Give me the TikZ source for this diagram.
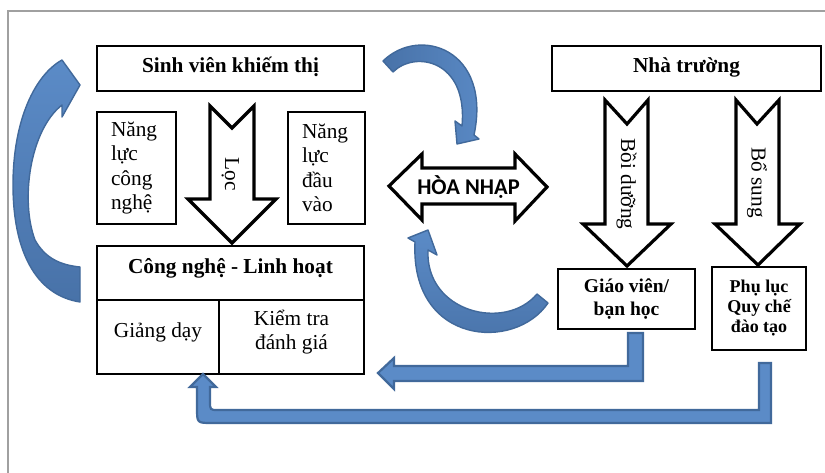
\documentclass[tikz,border=0pt]{standalone}
\usepackage{fontspec}
\setmainfont{Liberation Serif}
\newfontfamily\calibri{Carlito}
\definecolor{bluelight}{RGB}{91,139,199}
\definecolor{bluemid}{RGB}{72,114,168}
\definecolor{bluedark}{RGB}{65,105,155}
\definecolor{framegray}{RGB}{160,160,160}
\begin{document}
\begin{tikzpicture}[x=1pt,y=-1pt,
  box/.style={draw=black, line width=1.6pt, fill=white, inner sep=0pt, align=center},
  tb/.style={font=\fontsize{21.3}{24.5}\selectfont\bfseries},
  tr/.style={font=\fontsize{21.3}{24.5}\selectfont},
  oneline/.style={text height=14pt, text depth=5pt, inner sep=0pt},
  blockarrow/.style={draw=black, line width=3.2pt, fill=white, line join=miter, miter limit=10},
  curvearrow/.style={draw=bluedark, line width=1.4pt, line join=round},
  benta/.style={fill=bluelight, draw=bluedark, line width=2.2pt, line join=miter}
]
\useasboundingbox (0,0) rectangle (825,473);
\fill[white] (0,0) rectangle (825,473);
\draw[framegray, line width=1.3pt] (8,473) -- (8,11) -- (825,11);

% boxes
\node[box, tb, oneline, minimum width=267pt, minimum height=45pt] (sv) at (230.5,68.5) {Sinh viên khiếm thị};
\node[box, tr, minimum width=79pt, minimum height=112pt, text width=51pt, align=left] (nlcn) at (136.5,168) {Năng\\lực\\công\\nghệ};
\node[box, tr, minimum width=77pt, minimum height=112pt, text width=49pt, align=left] (nldv) at (326.5,168) {Năng\\lực\\đầu\\vào};

\node[box, minimum width=267pt, minimum height=54pt] (cn) at (230.5,273) {};
\node[tb, oneline] (cnt) at (230.5,269.5) {Công nghệ - Linh hoạt};
\node[box, minimum width=122pt, minimum height=74pt] (gd) at (158,337) {};
\node[tr, oneline] (gdt) at (158,332.5) {Giảng dạy};
\node[box, minimum width=145pt, minimum height=74pt] (kt) at (291.5,337) {};
\node[tr, align=center, font=\fontsize{21.3}{24}\selectfont, inner sep=0pt] (ktt) at (291.5,332) {Kiểm tra\\đánh giá};

\node[box, tb, oneline, minimum width=269pt, minimum height=45pt] (nt) at (686.5,68.5) {Nhà trường};
\node[box, font=\fontsize{19.5}{23}\selectfont\bfseries, minimum width=137pt, minimum height=60pt] (gv) at (626.5,299) {Giáo viên/\\bạn học};
\node[box, font=\fontsize{18}{20}\selectfont\bfseries, minimum width=94pt, minimum height=83pt] (pl) at (759,308.5) {Phụ lục\\Quy chế\\đào tạo};

% block arrows
\path[blockarrow] (210,106) -- (232,128) -- (254,106) -- (254,199) -- (276,199) -- (232,243) -- (188,199) -- (210,199) -- cycle;
\node[tr, oneline, rotate=-90] (loc) at (229.5,174.5) {Lọc};

\path[blockarrow] (605,100) -- (627,124) -- (648,100) -- (648,224) -- (671,224) -- (627,266) -- (583,224) -- (605,224) -- cycle;
\node[tr, oneline, rotate=-90] (bd) at (625.5,184) {Bồi dưỡng};

\path[blockarrow] (736,100) -- (757,124) -- (779,100) -- (779,224) -- (800,224) -- (758,265) -- (715,224) -- (736,224) -- cycle;
\node[tr, oneline, rotate=-90] (bs) at (756,182.5) {Bổ sung};

\path[blockarrow] (389,186) -- (422,154) -- (422,168) -- (515,168) -- (515,154) -- (547,187) -- (515,221) -- (515,204) -- (422,204) -- (422,220) -- cycle;
\node[font=\fontsize{22.5}{26}\selectfont\calibri\bfseries, text height=14.5pt, text depth=0pt, inner sep=0pt] (hn) at (468.5,187.5) {HÒA NHẬP};

% curved blue arrows
\path[curvearrow, top color=bluelight, bottom color=bluemid]
  (80,85) -- (62,117) -- (62,105)
  .. controls (30,130) and (20,200) .. (35,240)
  .. controls (45,258) and (60,265) .. (80,267)
  -- (80,302)
  .. controls (35,295) and (13,250) .. (13,185)
  .. controls (13,120) and (35,75) .. (62,60) -- cycle;

\path[curvearrow, left color=bluemid, right color=bluelight]
  (457,144) -- (455,121) -- (462,126)
  .. controls (468,60) and (415,50) .. (393,72)
  -- (383,61)
  .. controls (420,25) and (492,50) .. (474,135)
  -- (479,139) -- cycle;

\path[curvearrow, top color=bluelight, bottom color=bluemid]
  (428,230) -- (437,255) -- (428,250)
  .. controls (425,312) and (505,332) .. (537,294)
  -- (548,303)
  .. controls (515,352) and (410,345) .. (415,242)
  -- (408,238) -- cycle;

% bent arrows
\path[benta] (378,373) -- (394,358) -- (394,366) -- (628,366) -- (628,333) -- (643,333) -- (643,381) -- (394,381) -- (394,389) -- cycle;
\path[benta] (203,374) -- (216,387) -- (210,387) -- (210,401) .. controls (210,410) .. (218,410) -- (759,410) -- (759,363) -- (771,363) -- (771,423) -- (212,423) .. controls (197,423) .. (197,408) -- (197,387) -- (190,387) -- cycle;
\end{tikzpicture}
\end{document}
